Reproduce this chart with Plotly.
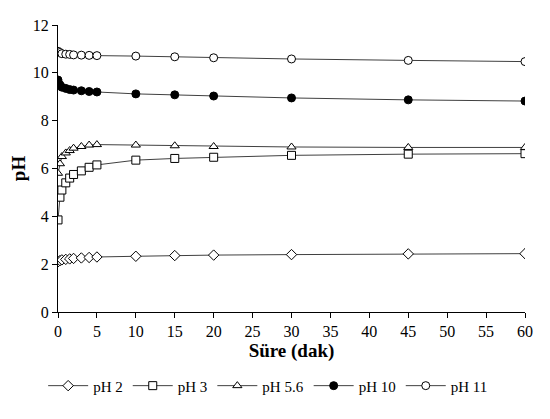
import plotly.graph_objects as go

t = [0, 0.25, 0.5, 1, 1.5, 2, 3, 4, 5, 10, 15, 20, 30, 45, 60]
ph2 = [2.1, 2.15, 2.18, 2.2, 2.22, 2.24, 2.26, 2.28, 2.3, 2.33, 2.36, 2.38, 2.4, 2.43, 2.44]
ph3 = [3.85, 4.8, 5.1, 5.4, 5.6, 5.75, 5.9, 6.05, 6.15, 6.35, 6.42, 6.47, 6.55, 6.6, 6.62]
ph56 = [5.8, 6.2, 6.5, 6.65, 6.75, 6.85, 6.92, 6.98, 7.0, 6.98, 6.95, 6.92, 6.9, 6.88, 6.88]
ph10 = [9.7, 9.5, 9.4, 9.35, 9.3, 9.28, 9.25, 9.22, 9.2, 9.12, 9.08, 9.03, 8.95, 8.87, 8.82]
ph11 = [10.9, 10.85, 10.8, 10.78, 10.77, 10.75, 10.74, 10.73, 10.72, 10.7, 10.67, 10.63, 10.58, 10.52, 10.47]

series = [("pH 2", ph2, "diamond", "white"), ("pH 3", ph3, "square", "white"),
          ("pH 5.6", ph56, "triangle-up", "white"), ("pH 10", ph10, "circle", "black"),
          ("pH 11", ph11, "circle", "white")]

fig = go.Figure()
for name, y, sym, fc in series:
    fig.add_trace(go.Scatter(x=t, y=y, name=name, mode="lines+markers",
        line=dict(color="#404040", width=1),
        marker=dict(symbol=sym, size=8, color=fc, line=dict(color="black", width=1))))

font = dict(family="Liberation Serif", size=16, color="black")
fig.update_layout(width=534, height=403, plot_bgcolor="white", paper_bgcolor="white",
    margin=dict(l=44, r=9, t=9, b=78), font=font,
    legend=dict(orientation="h", x=0.45, xanchor="center", y=-0.2, yanchor="top",
                font=dict(family="Liberation Serif", size=15), itemwidth=40, tracegroupgap=0))
ax = dict(showline=True, linecolor="black", linewidth=1, ticks="outside", ticklen=5,
          tickcolor="black", showgrid=False, zeroline=False, mirror=False)
fig.update_xaxes(range=[0, 60], dtick=5, title=dict(text="<b>Süre (dak)</b>", standoff=2), **ax)
fig.update_yaxes(range=[0, 12], dtick=2, title=dict(text="<b>pH</b>", standoff=2), **ax)
fig.write_html("out.html")
